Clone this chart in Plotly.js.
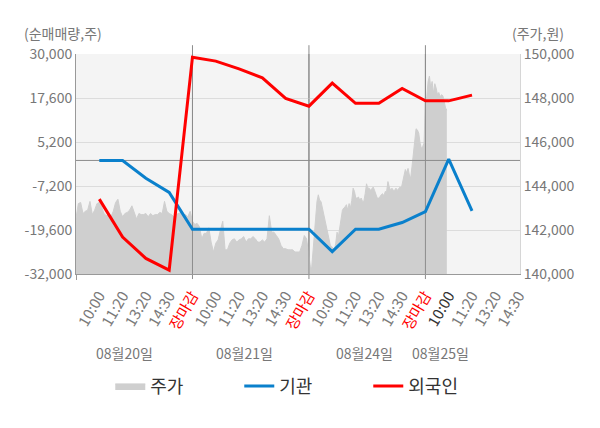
<!DOCTYPE html>
<html>
<head>
<meta charset="utf-8">
<script src="https://cdn.plot.ly/plotly-3.0.1.min.js"></script>
<style>
  html, body { margin: 0; padding: 0; background: #fff; }
  #chart { width: 600px; height: 428px; }
</style>
</head>
<body>
<div id="chart"></div>
<script>
// x axis labels, one per tick (5 per trading day)
const timeLabels = [
  '10:00', '11:20', '13:20', '14:30', '장마감',
  '10:00', '11:20', '13:20', '14:30', '장마감',
  '10:00', '11:20', '13:20', '14:30', '장마감',
  '10:00', '11:20', '13:20', '14:30',
];
const dateLabels = ['08월20일', '08월21일', '08월24일', '08월25일'];
const dateLabelX = [2.1, 7.25, 12.4, 15.65];

// net buying (shares), one value per tick starting at the first 10:00
const institution = [0, 0, -5000, -9000, -19400, -19400, -19400, -19400, -19400, -19400,
  -25700, -19400, -19400, -17500, -14400, 400, -14200];
const foreign = [-10900, -21600, -27600, -30900, 29100, 28000, 25800, 23300, 17500, 15300,
  21800, 16100, 16100, 20300, 16800, 16800, 18400];

// intraday price (won), evenly spaced samples per session
const priceDay1 = [142550, 143200, 143250, 142750, 142850, 142900, 143300, 142700, 142900, 143200,
  143250, 143050, 142750, 142650, 142750, 142600, 142850, 143250, 143400, 142850,
  142600, 142750, 142800, 142900, 143100, 142750, 142500, 142750, 142700, 142700,
  142750, 142600, 142750, 142650, 142700, 142700, 142800, 142750, 143300, 142850,
  142750, 142700, 142600, 142700, 142750, 142800, 142650, 142700, 142600, 142850];
const priceDay2 = [142400, 142250, 142300, 142150, 141600, 141850, 141850, 142100, 141450, 141000,
  141400, 141550, 142000, 142400, 141100, 141100, 141400, 141550, 141600, 141450,
  141550, 141600, 141700, 141450, 141600, 141600, 141700, 141600, 141450, 141450,
  141550, 141450, 141600, 142650, 141900, 141900, 141750, 141600, 141300, 141150,
  141150, 141100, 141100, 141100, 141000, 141000, 141000, 141300, 141750, 141600];
const priceDay3 = [140850, 140350, 140250, 140950, 141600, 142450, 143300, 143600, 143350, 143300,
  143000, 142750, 142450, 142150, 141750, 141550, 141300, 141250, 141150, 141100,
  141400, 141900, 141700, 142150, 142550, 142900, 143000, 143050, 143150, 142900,
  143200, 143000, 143350, 143900, 143750, 143450, 143450, 143500, 143350, 143450,
  143300, 143300, 143650, 144100, 143900, 143900, 143800, 143900, 143950, 143800,
  143600, 143450, 143450, 143500, 143600, 143650, 143550, 143750, 143750, 144200,
  143950, 143800, 143900, 143800, 143800, 143900, 143800, 143900, 143950, 143900,
  144200, 144500, 144750, 144600, 144800, 144500, 144350, 144900, 145550, 146250,
  146600, 146550, 146400, 145950, 145700, 145800, 145950];
const priceDay4 = [147900, 148050, 148750, 149000, 148450, 148750, 148200, 148650, 148450, 148150,
  148250, 148050, 148150, 148100, 147850, 147550, 147450];

const TICKS_PER_DAY = 5;
const X_MAX = 19.06;

// each session spans TICKS_PER_DAY units; slots = samples in a full session
const sessions = [
  { prices: priceDay1, slots: 50 },
  { prices: priceDay2, slots: 50 },
  { prices: priceDay3, slots: 87 },
  { prices: priceDay4, slots: 87 },
];
const priceX = [];
const priceY = [];
sessions.forEach((s, d) => {
  s.prices.forEach((p, k) => {
    priceX.push(d * TICKS_PER_DAY + k * TICKS_PER_DAY / s.slots);
    priceY.push(p);
  });
});

const tickVals = timeLabels.map((_, i) => i + 1);
const tickText = timeLabels.map((t, i) => {
  if (t === '장마감') return '<span style="color:#ff0000">' + t + '</span>';
  if (i === 15) return '<span style="color:#333333">' + t + '</span>';
  return t;
});
const lineX = foreign.map((_, i) => i + 1);

const dayBreaks = [1, 2, 3].map((d) => d * TICKS_PER_DAY);
const LEFT_MIN = -32000, LEFT_MAX = 30000;
const leftTicks = [-32000, -19600, -7200, 5200, 17600, 30000];

// day separators + zero line, drawn over the price area but under the flow lines
const sepX = [], sepY = [];
dayBreaks.forEach((b) => { sepX.push(b, b, null); sepY.push(LEFT_MIN, LEFT_MAX, null); });
sepX.push(0, X_MAX); sepY.push(0, 0);

const traces = [
  {
    x: priceX, y: priceY, type: 'scatter', mode: 'lines', name: '주가',
    fill: 'tozeroy', fillcolor: '#cfcfcf', line: { color: '#cfcfcf', width: 1 },
    yaxis: 'y', hoverinfo: 'skip',
  },
  {
    x: sepX, y: sepY, type: 'scatter', mode: 'lines', yaxis: 'y2',
    line: { color: '#8c8c8c', width: 1 }, showlegend: false, hoverinfo: 'skip',
  },
  {
    x: lineX, y: institution, type: 'scatter', mode: 'lines', name: '기관',
    line: { color: '#0a80cc', width: 3 }, yaxis: 'y2',
  },
  {
    x: lineX, y: foreign, type: 'scatter', mode: 'lines', name: '외국인',
    line: { color: '#ff0000', width: 3 }, yaxis: 'y2',
  },
];

const shapes = dayBreaks.map((b) => ({
  type: 'line', layer: 'below', xref: 'x', yref: 'paper',
  x0: b, x1: b, y0: -0.023, y1: 1.04,
  line: { color: '#8c8c8c', width: 1 },
}));

const annotations = dateLabels.map((t, i) => ({
  text: t, xref: 'x', yref: 'paper', x: dateLabelX[i], y: -0.36, yanchor: 'middle',
  showarrow: false, font: { size: 14, color: '#777' },
}));
annotations.push(
  { text: '(순매매량,주)', xref: 'paper', yref: 'paper', x: -0.122, y: 1.095,
    xanchor: 'left', yanchor: 'middle', showarrow: false, font: { size: 14, color: '#777' } },
  { text: '(주가,원)', xref: 'paper', yref: 'paper', x: 0.977, y: 1.095,
    xanchor: 'left', yanchor: 'middle', showarrow: false, font: { size: 14, color: '#777' } },
);

const layout = {
  width: 600,
  height: 428,
  margin: { l: 76, r: 80, t: 54, b: 154 },
  paper_bgcolor: '#ffffff',
  plot_bgcolor: '#f4f4f4',
  font: { family: '"Noto Sans CJK KR", "Noto Sans", sans-serif', size: 14, color: '#777' },
  showlegend: true,
  legend: {
    orientation: 'h', x: 0.513, xanchor: 'center', y: -0.51, yanchor: 'middle',
    entrywidth: 84, font: { size: 18, color: '#333' }, bgcolor: 'rgba(0,0,0,0)',
  },
  xaxis: {
    range: [0, X_MAX], tickmode: 'array', tickvals: tickVals, ticktext: tickText,
    tickangle: -60, tickfont: { size: 15, color: '#7a7a7a' }, ticklabelstandoff: 6,
    showgrid: false, zeroline: false, showline: true, linecolor: '#999', ticks: '',
    minor: { tickmode: 'array', tickvals: [0], ticks: 'outside', ticklen: 5, tickcolor: '#999', showgrid: false },
  },
  yaxis: {
    side: 'right', range: [140000, 150000], dtick: 2000, tick0: 140000, tickformat: ',d',
    showgrid: false, zeroline: false, showline: true, linecolor: '#d6d6d6',
    tickfont: { size: 14, color: '#777' },
  },
  yaxis2: {
    overlaying: 'y', side: 'left', range: [LEFT_MIN, LEFT_MAX],
    tickmode: 'array', tickvals: leftTicks,
    ticktext: leftTicks.map((v) => v.toLocaleString('en-US')),
    showgrid: true, gridcolor: '#dcdcdc', zeroline: false, showline: true, linecolor: '#999',
    tickfont: { size: 14, color: '#777' },
  },
  shapes,
  annotations,
  hovermode: 'closest',
};

Plotly.newPlot('chart', traces, layout, { displayModeBar: false, responsive: false });
</script>
</body>
</html>
